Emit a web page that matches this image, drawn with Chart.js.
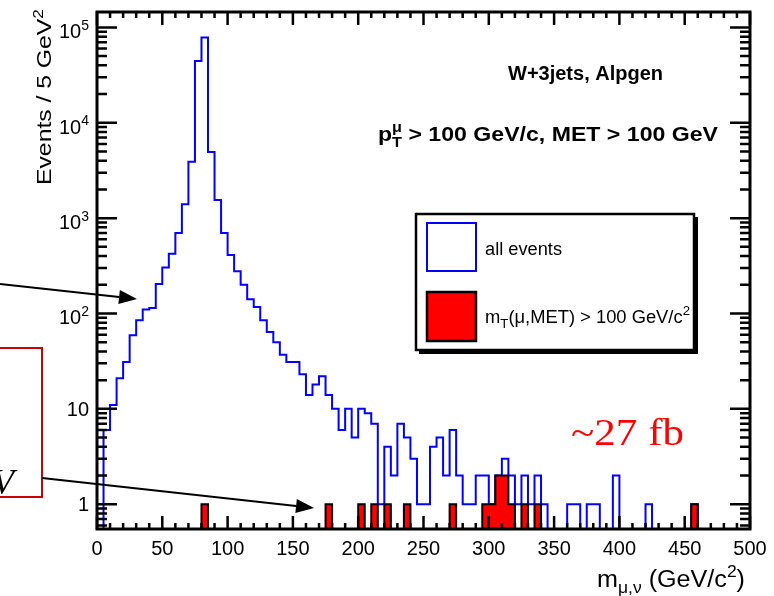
<!DOCTYPE html>
<html lang="en">
<head>
<meta charset="UTF-8">
<title>W+3jets, Alpgen - m(mu,nu)</title>
<script src="https://cdn.jsdelivr.net/npm/chart.js"></script>
<style>
    body { margin: 0; background: #fff; }
    canvas { display: block; }
</style>
</head>
<body>
<canvas id="grafico" width="774" height="596"></canvas>
<script>
    // 5 GeV bins, lower edges (last entry closes the final bin)
    const binEdges = [
        0, 5, 10, 15, 20, 25, 30, 35, 40, 45, 50, 55, 60, 65, 70, 75, 80, 85, 90, 95,
        100, 105, 110, 115, 120, 125, 130, 135, 140, 145, 150, 155, 160, 165, 170, 175, 180, 185, 190, 195,
        200, 205, 210, 215, 220, 225, 230, 235, 240, 245, 250, 255, 260, 265, 270, 275, 280, 285, 290, 295,
        300, 305, 310, 315, 320, 325, 330, 335, 340, 345, 350, 355, 360, 365, 370, 375, 380, 385, 390, 395,
        400, 405, 410, 415, 420, 425, 430, 435, 440, 445, 450, 455, 460, 465, 470, 475, 480, 485, 490, 495, 500
    ];
    const allEvents = [
        0, 6, 11, 21, 31, 59, 85, 110, 114, 204,
        304, 424, 700, 1400, 3890, 44300, 78500, 4950, 1550, 700,
        411, 277, 200, 141, 117, 85, 64, 50, 37, 31,
        31, 23, 14, 18, 22, 14, 10, 6, 10, 5,
        10, 9, 7, 1, 4, 2, 7, 5, 3, 1,
        1, 4, 5, 2, 6, 2, 1, 1, 2, 2,
        1, 2, 3, 2, 1, 2, 1, 2, 1, 0,
        0, 0, 1, 1, 0, 1, 1, 0, 0, 2,
        0, 0, 0, 0, 1, 0, 0, 0, 0, 0,
        0, 1, 0, 0, 0, 0, 0, 0, 0, 0
    ];
    const mtCut = [
        0, 0, 0, 0, 0, 0, 0, 0, 0, 0,
        0, 0, 0, 0, 0, 0, 1, 0, 0, 0,
        0, 0, 0, 0, 0, 0, 0, 0, 0, 0,
        0, 0, 0, 0, 0, 1, 0, 0, 0, 0,
        1, 0, 1, 0, 1, 0, 0, 1, 0, 0,
        0, 0, 0, 0, 1, 0, 0, 0, 0, 1,
        1, 2, 2, 1, 0, 1, 0, 1, 0, 0,
        0, 0, 0, 0, 0, 0, 0, 0, 0, 0,
        0, 0, 0, 0, 0, 0, 0, 0, 0, 0,
        0, 1, 0, 0, 0, 0, 0, 0, 0, 0
    ];
    const xTicks = [0, 50, 100, 150, 200, 250, 300, 350, 400, 450, 500];
    const yTicks = [1, 10, 100, 1000, 10000, 100000];
    const yTickLabels = [['1'], ['10'], ['10', '2'], ['10', '3'], ['10', '4'], ['10', '5']];

    const yMin = 0.55;
    const yMax = 1.45e5;
    const SANS = '"Liberation Sans", Arial, sans-serif';
    const SERIF = '"Liberation Serif", "Times New Roman", serif';

    // histogram -> step points; empty bins sit on the axis floor
    function toSteps(values) {
        const pts = values.map((v, i) => ({ x: binEdges[i], y: v > 0 ? v : yMin }));
        pts.push({ x: binEdges[values.length], y: pts[pts.length - 1].y });
        return pts;
    }

    // text with sub/superscripts: parts = [[text, 'sub'|'sup'|'both'|'', extra]]
    // fit: optional total width the text is stretched to
    function richText(ctx, parts, x, y, size, align, weight, fit) {
        const w = weight ? weight + ' ' : '';
        const small = Math.round(size * 0.7);
        const widthOf = p => {
            ctx.font = w + (p[1] ? small : size) + 'px ' + SANS;
            let wd = ctx.measureText(p[0]).width;
            if (p[1] === 'both') wd = Math.max(wd, ctx.measureText(p[2]).width);
            return wd;
        };
        const total = parts.reduce((s, p) => s + widthOf(p), 0);
        const sx = fit ? fit / total : 1;
        const shown = total * sx;
        const x0 = align === 'right' ? x - shown : align === 'center' ? x - shown / 2 : x;
        ctx.save();
        ctx.translate(x0, y);
        ctx.scale(sx, 1);
        ctx.textAlign = 'left';
        ctx.textBaseline = 'alphabetic';
        let cx = 0;
        parts.forEach(p => {
            const wd = widthOf(p);
            if (p[1] === 'sup') ctx.fillText(p[0], cx, -size * 0.42);
            else if (p[1] === 'sub') ctx.fillText(p[0], cx, size * 0.28);
            else if (p[1] === 'both') {
                ctx.fillText(p[0], cx, size * 0.28);
                ctx.fillText(p[2], cx, -size * 0.45);
            } else ctx.fillText(p[0], cx, 0);
            cx += wd;
        });
        ctx.restore();
    }

    function arrow(ctx, x0, y0, x1, y1) {
        const ang = Math.atan2(y1 - y0, x1 - x0);
        const len = 18, half = 7;
        const bx = x1 - len * Math.cos(ang), by = y1 - len * Math.sin(ang);
        ctx.beginPath();
        ctx.moveTo(x0, y0);
        ctx.lineTo(bx, by);
        ctx.stroke();
        ctx.beginPath();
        ctx.moveTo(x1, y1);
        ctx.lineTo(bx - half * Math.sin(ang), by + half * Math.cos(ang));
        ctx.lineTo(bx + half * Math.sin(ang), by - half * Math.cos(ang));
        ctx.closePath();
        ctx.fill();
    }

    const rootFrame = {
        id: 'rootFrame',
        afterDatasetsDraw(chart) {
            const { ctx, chartArea: a, scales: { x, y } } = chart;
            ctx.save();
            ctx.strokeStyle = '#000';
            ctx.fillStyle = '#000';
            ctx.lineWidth = 2.5;

            // x ticks, bottom and top
            for (let v = 0; v <= 500; v += 10) {
                const px = x.getPixelForValue(v);
                const len = v % 50 === 0 ? 13 : 6;
                ctx.beginPath();
                ctx.moveTo(px, a.bottom); ctx.lineTo(px, a.bottom - len);
                ctx.moveTo(px, a.top); ctx.lineTo(px, a.top + len);
                ctx.stroke();
            }
            // log y ticks, left and right
            for (let d = 0.1; d <= 1e5; d *= 10) {
                for (let k = 1; k <= 9; k++) {
                    const v = k * d;
                    if (v < yMin || v > yMax) continue;
                    const py = y.getPixelForValue(v);
                    const len = k === 1 ? 20 : 10;
                    ctx.beginPath();
                    ctx.moveTo(a.left, py); ctx.lineTo(a.left + len, py);
                    ctx.moveTo(a.right, py); ctx.lineTo(a.right - len, py);
                    ctx.stroke();
                }
            }
            ctx.lineWidth = 3;
            ctx.strokeRect(a.left, a.top, a.right - a.left, a.bottom - a.top);

            // tick labels
            xTicks.forEach(v => richText(ctx, [[String(v)]], x.getPixelForValue(v), a.bottom + 26, 20, 'center'));
            yTicks.forEach((v, i) => {
                const lab = yTickLabels[i];
                const parts = lab.length > 1 ? [[lab[0]], [lab[1], 'sup']] : [[lab[0]]];
                const shift = lab.length > 1 ? 11 : 7;
                richText(ctx, parts, a.left - 8, y.getPixelForValue(v) + shift, 20, 'right');
            });

            // axis titles
            richText(ctx, [['m'], ['\u03bc,\u03bd', 'sub'], [' (GeV/c'], ['2', 'sup'], [')']], 745, 587, 23, 'right', '', 148);
            ctx.save();
            ctx.translate(51, 9);
            ctx.rotate(-Math.PI / 2);
            richText(ctx, [['Events / 5 GeV'], ['2', 'sup']], 0, 0, 20, 'right', '', 176);
            ctx.restore();

            // header texts
            richText(ctx, [['W+3jets, Alpgen']], 508, 80, 20, 'left', 'bold');
            richText(ctx, [['p'], ['T', 'both', '\u03bc'], [' > 100 GeV/c, MET > 100 GeV']], 378, 141, 20, 'left', 'bold', 340);

            // legend
            const ds = chart.data.datasets;
            ctx.fillStyle = '#000';
            ctx.fillRect(419, 217, 279, 137);
            ctx.fillStyle = '#fff';
            ctx.fillRect(416, 214, 278, 136);
            ctx.strokeStyle = '#000';
            ctx.lineWidth = 2.5;
            ctx.strokeRect(416, 214, 278, 136);
            ctx.strokeStyle = ds[1].borderColor;
            ctx.lineWidth = 2;
            ctx.strokeRect(427, 223, 49, 48);
            ctx.fillStyle = ds[0].backgroundColor;
            ctx.fillRect(427, 292, 49, 49);
            ctx.strokeStyle = ds[0].borderColor;
            ctx.lineWidth = 2.5;
            ctx.strokeRect(427, 292, 49, 49);
            ctx.fillStyle = '#000';
            richText(ctx, [[ds[1].label]], 485, 255, 18, 'left', '', 77);
            richText(ctx, [['m'], ['T', 'sub'], ['(\u03bc,MET) > 100 GeV/c'], ['2', 'sup']], 485, 323, 18, 'left', '', 205);

            // annotations from the slide
            ctx.save();
            ctx.font = '38px ' + SERIF;
            ctx.fillStyle = '#ff0000';
            ctx.textAlign = 'left';
            ctx.translate(571, 445);
            ctx.scale(113 / ctx.measureText('~27 fb').width, 1);
            ctx.fillText('~27 fb', 0, 0);
            ctx.restore();

            ctx.strokeStyle = '#cc0000';
            ctx.lineWidth = 2;
            ctx.strokeRect(-10, 348, 52, 149);
            ctx.fillStyle = '#000';
            ctx.font = 'italic 36px ' + SERIF;
            ctx.fillText('V', -8, 494);

            ctx.strokeStyle = '#000';
            ctx.lineWidth = 2;
            arrow(ctx, 0, 284, 137, 299);
            arrow(ctx, 42, 478, 314, 508);
            ctx.restore();
        }
    };

    const ctx = document.getElementById('grafico').getContext('2d');
    const chart = new Chart(ctx, {
        type: 'line',
        data: {
            datasets: [
                {
                    label: 'm_T(mu,MET) > 100 GeV/c2',
                    data: toSteps(mtCut),
                    stepped: true,
                    borderColor: '#000000',
                    backgroundColor: '#ff0000',
                    borderWidth: 2,
                    fill: 'start',
                    pointRadius: 0,
                    order: 0
                },
                {
                    label: 'all events',
                    data: toSteps(allEvents),
                    stepped: true,
                    borderColor: '#0000ff',
                    backgroundColor: '#0000ff',
                    borderWidth: 2,
                    fill: false,
                    pointRadius: 0,
                    order: 1
                }
            ]
        },
        options: {
            responsive: false,
            animation: false,
            layout: { padding: { top: 12, right: 24, left: 0, bottom: 0 } },
            plugins: {
                legend: { display: false },
                tooltip: { enabled: false }
            },
            scales: {
                x: {
                    type: 'linear',
                    min: 0,
                    max: 500,
                    grid: { display: false },
                    border: { display: false },
                    ticks: { display: false },
                    afterFit: s => { s.height = 67; }
                },
                y: {
                    type: 'logarithmic',
                    min: yMin,
                    max: yMax,
                    grid: { display: false },
                    border: { display: false },
                    ticks: { display: false },
                    afterFit: s => { s.width = 97; }
                }
            }
        },
        plugins: [rootFrame]
    });
</script>
</body>
</html>
